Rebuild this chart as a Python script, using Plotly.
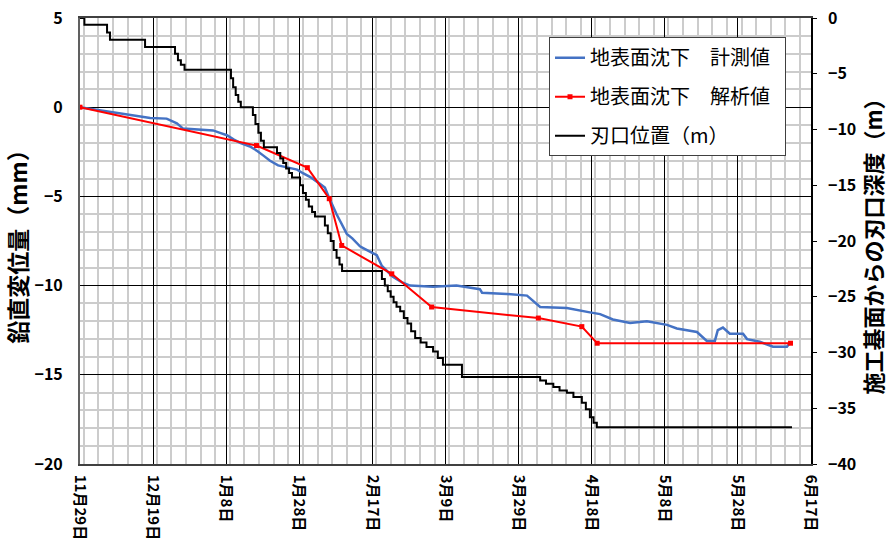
import plotly.graph_objects as go
import pandas as pd

START = "2018-11-29"

# 地表面沈下 計測値 (mm) — days from start
blue_days = [0, 3, 6, 8.2, 10, 13.1, 16, 19.2, 23.7, 26.5, 28.2, 32, 36.4, 38.5, 40.2,
             42, 43.8, 46.5, 48.5, 50.1, 52, 54.2, 57, 59.4, 61, 62.9, 65, 67, 68, 69.2,
             70.2, 71.1, 72, 73, 74.5, 75.8, 76.6, 78, 79.3, 81.2, 82.6, 84, 85.6, 88, 90.3,
             96.6, 103, 109.4, 110, 116.8, 122.3, 125.9, 133.2, 139.5, 142.3, 145.8, 150.5,
             155.1, 160.6, 163.3, 168.8, 171.5, 173.7, 174.5, 175.9, 177.8, 181.4, 182.5,
             186, 189.6, 193.4, 194.3]
blue_mm = [0, -0.1, -0.2, -0.26, -0.3, -0.4, -0.5, -0.6, -0.64, -0.9, -1.2, -1.25, -1.3, -1.45, -1.57,
           -1.8, -2.0, -2.2, -2.45, -2.7, -3.0, -3.26, -3.4, -3.5, -3.7, -3.9, -4.2, -4.5, -5.0, -5.6,
           -6.0, -6.35, -6.7, -7.1, -7.35, -7.6, -7.8, -7.95, -8.1, -8.3, -8.9, -9.2, -9.5, -9.8, -10.0,
           -10.06, -10.0, -10.2, -10.4, -10.47, -10.56, -11.2, -11.26, -11.5, -11.6, -11.9, -12.1,
           -12.0, -12.2, -12.4, -12.6, -13.1, -13.1, -12.5, -12.35, -12.7, -12.7, -13.0,
           -13.15, -13.43, -13.43, -13.2]

# 地表面沈下 解析値 (mm)
red_days = [0, 48.3, 62.2, 68.2, 71.6, 85.3, 96.2, 125.4, 137.3, 141.5, 194.4]
red_mm = [0, -2.15, -3.39, -5.13, -7.75, -9.34, -11.2, -11.82, -12.3, -13.23, -13.23]

# 刃口位置 (m)
black_days = [0, 1.2, 7.4, 8.2, 17.8, 26.0, 26.8, 27.6, 28.6, 41.3, 41.9, 42.6, 43.3, 44.0,
              47.3, 48.0, 48.8, 49.5, 50.3, 53.9, 54.8, 55.6, 56.4, 57.2, 58.0, 60.2, 61.0,
              61.8, 62.6, 63.5, 64.3, 67.0, 67.8, 68.6, 69.4, 70.2, 71.0, 71.7, 82.6, 83.4,
              84.2, 85.0, 85.8, 86.6, 87.6, 88.6, 89.6, 90.6, 91.7, 93.2, 94.8, 96.6, 97.9,
              99.3, 104.5, 125.9, 127.5, 129.5, 131.2, 133.2, 135.0, 137.3, 138.4, 139.5,
              140.5, 141.4, 194.8]
black_m = [0, -0.6, -1.3, -1.95, -2.6, -3.2, -3.8, -4.2, -4.65, -5.4, -6.2, -6.9, -7.5, -8.0,
           -8.7, -9.5, -10.3, -11.0, -11.6, -12.1, -12.6, -13.0, -13.5, -13.9, -14.3, -15.0, -15.7,
           -16.3, -16.9, -17.4, -17.8, -18.6, -19.3, -20.0, -20.8, -21.5, -22.1, -22.7, -23.4, -24.0,
           -24.5, -25.0, -25.5, -25.9, -26.3, -26.9, -27.4, -28.1, -28.7, -29.1, -29.5, -29.9, -30.5,
           -31.1, -32.2, -32.5, -32.8, -33.1, -33.4, -33.6, -34.0, -34.5, -35.1, -35.8,
           -36.3, -36.7, -36.7]

base = pd.Timestamp(START)


def to_dates(days):
    return [base + pd.Timedelta(days=d) for d in days]


FONT = "Noto Sans CJK JP"
DAY_MS = 86400000

fig = go.Figure()
fig.add_trace(go.Scatter(x=to_dates(blue_days), y=blue_mm, mode="lines",
                         name="地表面沈下\u3000計測値\u2002", legendgroup="a",
                         line=dict(color="#4472C4", width=2.5)))
fig.add_trace(go.Scatter(x=to_dates(red_days), y=red_mm, mode="lines+markers",
                         name="地表面沈下\u3000解析値\u2002", legendgroup="b",
                         line=dict(color="#FF0000", width=2),
                         marker=dict(symbol="square", size=5, color="#FF0000")))
fig.add_trace(go.Scatter(x=to_dates(black_days), y=black_m, mode="lines", yaxis="y2",
                         name="刃口位置（m）", legendgroup="c", line_shape="hv",
                         line=dict(color="#000000", width=2)))

fig.update_layout(
    width=895, height=545,
    margin=dict(l=80, r=84, t=18, b=81, autoexpand=False),
    paper_bgcolor="white", plot_bgcolor="white",
    font=dict(family=FONT, color="black"),
    showlegend=True,
    legend=dict(x=0.6416, y=0.957, xanchor="left", yanchor="top",
                bgcolor="white", bordercolor="#404040", borderwidth=1,
                font=dict(family=FONT, size=20, color="black"),
                tracegroupgap=10, traceorder="grouped"),
    xaxis=dict(
        type="date", automargin=False, ticklabeloverflow="allow",
        range=[base, base + pd.Timedelta(days=200)],
        tick0=base, dtick=20 * DAY_MS,
        tickformat="%-m月%-d日", tickangle=90,
        tickfont=dict(family=FONT, size=15, weight="bold"),
        ticklabelstandoff=6,
        showgrid=True, gridcolor="black", gridwidth=1,
        minor=dict(dtick=4 * DAY_MS, showgrid=True, gridcolor="#cccccc", gridwidth=1.5),
        showline=True, linecolor="#404040", linewidth=1.5, mirror=True,
        ticks="",
    ),
    yaxis=dict(
        range=[-20, 5], dtick=5, tick0=0, automargin=False, ticklabeloverflow="allow",
        tickfont=dict(family=FONT, size=16, weight="bold"),
        ticklabelstandoff=12,
        showgrid=True, gridcolor="black", gridwidth=1,
        minor=dict(dtick=1, showgrid=True, gridcolor="#cccccc", gridwidth=1.5),
        zeroline=False,
        showline=True, linecolor="#606060", linewidth=2,
        ticks="",
        title=dict(text="鉛直変位量（mm）", font=dict(family=FONT, size=23, weight="bold"),
                   standoff=4),
    ),
    yaxis2=dict(
        range=[-40, 0], dtick=5, tick0=0, automargin=False, ticklabeloverflow="allow",
        overlaying="y", side="right",
        tickfont=dict(family=FONT, size=16, weight="bold"),
        ticklabelstandoff=8,
        showgrid=False, zeroline=False,
        showline=True, linecolor="black", linewidth=1.5,
        ticks="outside", ticklen=4, tickcolor="black",
        title=dict(text="施工基面からの刃口深度（m）", font=dict(family=FONT, size=22, weight="bold"),
                   standoff=10),
    ),
)

fig.write_html("out.html", config={"displayModeBar": False},
               post_script="document.body.style.margin='0';")
